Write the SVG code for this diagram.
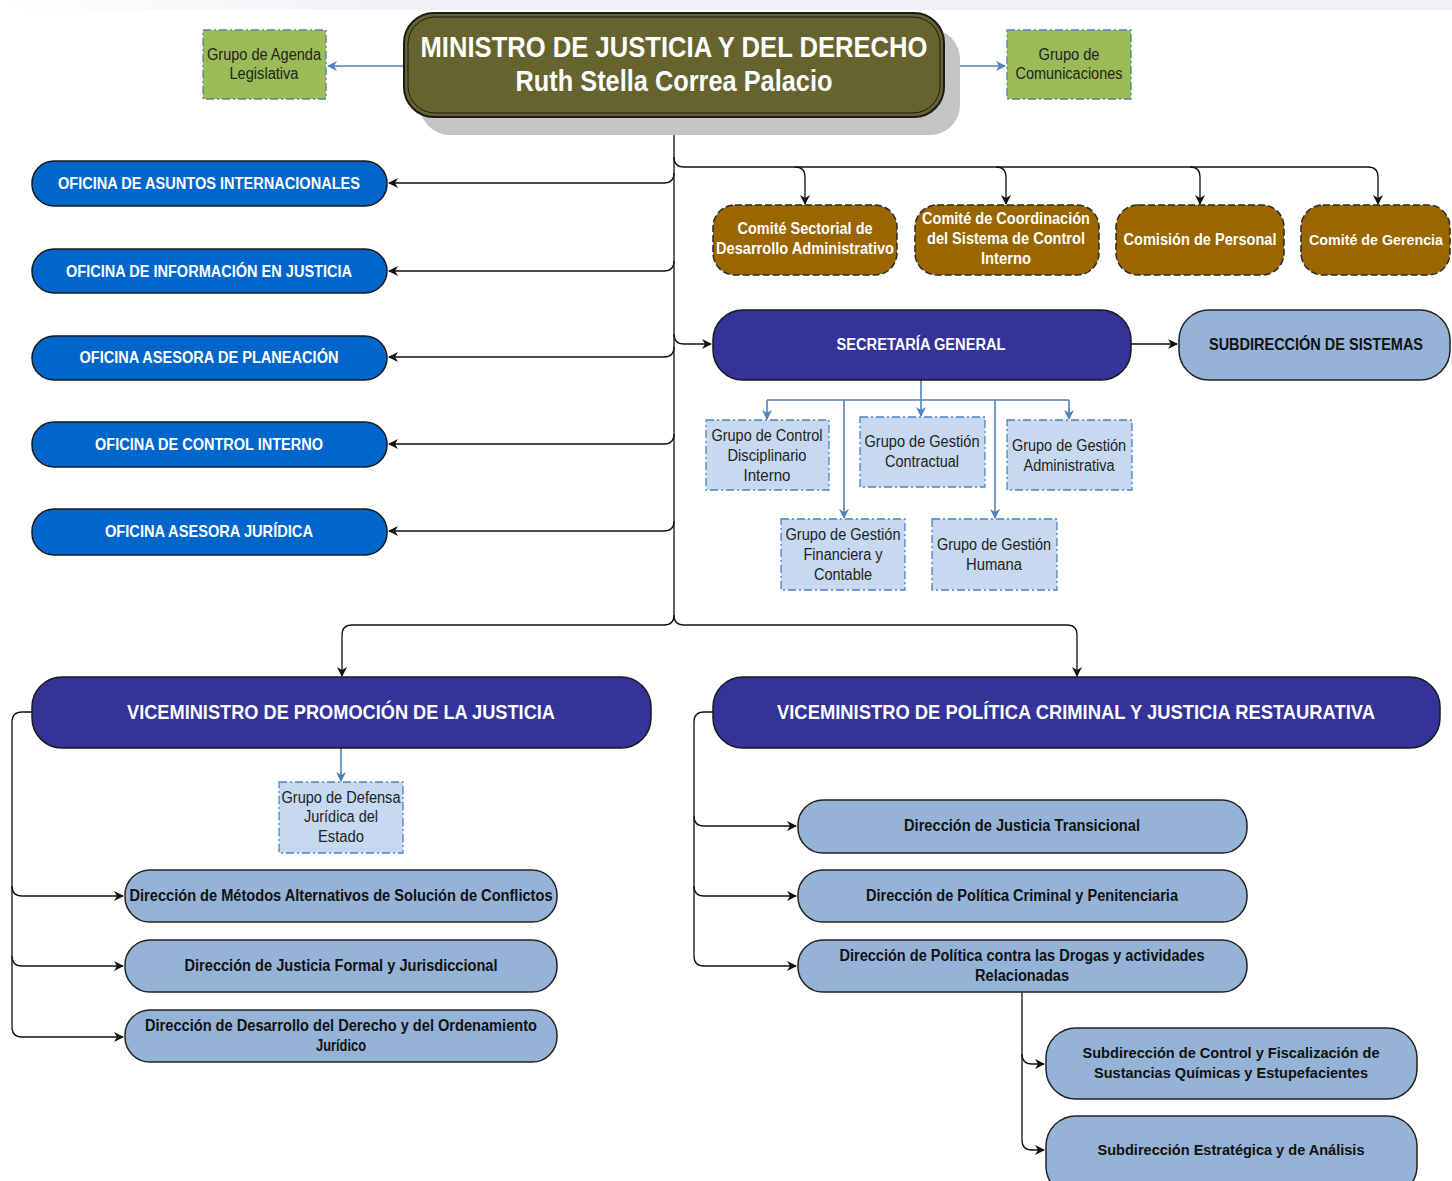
<svg xmlns="http://www.w3.org/2000/svg" width="1452" height="1181" viewBox="0 0 1452 1181">
<style>
text{font-family:"Liberation Sans",Arial,sans-serif;text-anchor:middle}
.w{fill:#fff;font-weight:bold}
.k{fill:#111;font-weight:bold}
.g{fill:#222;font-size:16px}
.off{fill:#0066cc;stroke:#1a1a1a;stroke-width:1.5}
.com{fill:#996600;stroke:#2a2a2a;stroke-width:1.5;stroke-dasharray:7 3}
.vice{fill:#333399;stroke:#1a1a1a;stroke-width:1.5}
.dir{fill:#95b3d7;stroke:#222;stroke-width:1.5}
.grp{fill:#c6d9f1;stroke:#4f81bd;stroke-width:1.3;stroke-dasharray:8 3 2 3}
.grn{fill:#9bbb59;stroke:#4f81bd;stroke-width:1.3;stroke-dasharray:8 3 2 3}
.c{fill:none;stroke:#111;stroke-width:1.3}
.cb{fill:none;stroke:#4f81bd;stroke-width:1.6}
</style>
<defs>
<linearGradient id="top" x1="0" x2="1" y1="0" y2="0"><stop offset="0" stop-color="#fff"/><stop offset="0.3" stop-color="#eef1f5"/><stop offset="1" stop-color="#eef1f5"/></linearGradient>
<marker id="ak" markerWidth="10" markerHeight="10" refX="9" refY="5" orient="auto" markerUnits="userSpaceOnUse"><path d="M0,0 L10,5 L0,10 L3,5 Z" fill="#111"/></marker>
<marker id="ab" markerWidth="10" markerHeight="10" refX="9" refY="5" orient="auto" markerUnits="userSpaceOnUse"><path d="M0,0 L10,5 L0,10 L3,5 Z" fill="#4f81bd"/></marker>
</defs>
<rect x="0" y="0" width="1452" height="1181" fill="#fff"/>
<rect x="0" y="0" width="1452" height="10" fill="url(#top)"/>

<g id="connectors">
<path class="c" d="M674,117 V615 Q674,625 684,625 H1067 Q1077,625 1077,635 V676" marker-end="url(#ak)"/>
<path class="c" d="M674,615 Q674,625 664,625 H352 Q342,625 342,635 V676" marker-end="url(#ak)"/>
<path class="c" d="M674,173 Q674,183 664,183 H389" marker-end="url(#ak)"/>
<path class="c" d="M674,261 Q674,271 664,271 H389" marker-end="url(#ak)"/>
<path class="c" d="M674,347 Q674,357 664,357 H389" marker-end="url(#ak)"/>
<path class="c" d="M674,434 Q674,444 664,444 H389" marker-end="url(#ak)"/>
<path class="c" d="M674,521 Q674,531 664,531 H389" marker-end="url(#ak)"/>
<path class="c" d="M674,157 Q674,167 684,167 H1368 Q1378,167 1378,177 V204" marker-end="url(#ak)"/>
<path class="c" d="M795,167 Q805,167 805,177 V204" marker-end="url(#ak)"/>
<path class="c" d="M996,167 Q1006,167 1006,177 V204" marker-end="url(#ak)"/>
<path class="c" d="M1190,167 Q1200,167 1200,177 V204" marker-end="url(#ak)"/>
<path class="c" d="M674,334 Q674,344 684,344 H711" marker-end="url(#ak)"/>
<path class="c" d="M1131,344 H1177" marker-end="url(#ak)"/>
<path class="cb" d="M404,66 H328" marker-end="url(#ab)"/>
<path class="cb" d="M944,66 H1005" marker-end="url(#ab)"/>
<path class="cb" d="M921,380 V400"/>
<path class="cb" d="M767,400 H1069"/>
<path class="cb" d="M767,400 V419" marker-end="url(#ab)"/>
<path class="cb" d="M921,400 V416" marker-end="url(#ab)"/>
<path class="cb" d="M1069,400 V419" marker-end="url(#ab)"/>
<path class="cb" d="M844,400 V518" marker-end="url(#ab)"/>
<path class="cb" d="M995,400 V518" marker-end="url(#ab)"/>
<path class="cb" d="M341,748 V781" marker-end="url(#ab)"/>
<path class="c" d="M32,712 H22 Q12,712 12,722 V1027 Q12,1037 22,1037 H123" marker-end="url(#ak)"/>
<path class="c" d="M12,886 Q12,896 22,896 H123" marker-end="url(#ak)"/>
<path class="c" d="M12,956 Q12,966 22,966 H123" marker-end="url(#ak)"/>
<path class="c" d="M713,712 H704 Q694,712 694,722 V956 Q694,966 704,966 H796" marker-end="url(#ak)"/>
<path class="c" d="M694,816 Q694,826 704,826 H796" marker-end="url(#ak)"/>
<path class="c" d="M694,886 Q694,896 704,896 H796" marker-end="url(#ak)"/>
<path class="c" d="M1022,992 V1140 Q1022,1150 1032,1150 H1044" marker-end="url(#ak)"/>
<path class="c" d="M1022,1054 Q1022,1064 1032,1064 H1044" marker-end="url(#ak)"/>
</g>

<g id="ministro">
<rect x="420" y="29" width="540" height="106" rx="30" fill="#c4c4c4"/>
<rect x="404" y="13" width="540" height="104" rx="30" fill="#66632e" stroke="#1a1a1a" stroke-width="2"/>
<rect x="408" y="17" width="532" height="96" rx="27" fill="none" stroke="#1a1a1a" stroke-width="1"/>
<text class="w" x="674" y="57" font-size="30" textLength="507" lengthAdjust="spacingAndGlyphs">MINISTRO DE JUSTICIA Y DEL DERECHO</text>
<text class="w" x="674" y="91" font-size="30" textLength="317" lengthAdjust="spacingAndGlyphs">Ruth Stella Correa Palacio</text>
</g>

<g id="agenda"><rect class="grn" x="203" y="30" width="123" height="69"/>
<text class="g" x="264" y="60" textLength="114" lengthAdjust="spacingAndGlyphs">Grupo de Agenda</text>
<text class="g" x="264" y="79" textLength="69" lengthAdjust="spacingAndGlyphs">Legislativa</text></g>
<g id="comunicaciones"><rect class="grn" x="1007" y="30" width="124" height="69"/>
<text class="g" x="1069" y="60" textLength="61" lengthAdjust="spacingAndGlyphs">Grupo de</text>
<text class="g" x="1069" y="79" textLength="107" lengthAdjust="spacingAndGlyphs">Comunicaciones</text></g>

<g id="of-internacionales"><rect class="off" x="32" y="161" width="355" height="45" rx="22"/>
<text class="w" x="209" y="189" font-size="16" textLength="302" lengthAdjust="spacingAndGlyphs">OFICINA DE ASUNTOS INTERNACIONALES</text></g>
<g id="of-informacion"><rect class="off" x="32" y="249" width="355" height="44" rx="22"/>
<text class="w" x="209" y="277" font-size="16" textLength="286" lengthAdjust="spacingAndGlyphs">OFICINA DE INFORMACIÓN EN JUSTICIA</text></g>
<g id="of-planeacion"><rect class="off" x="32" y="336" width="355" height="44" rx="22"/>
<text class="w" x="209" y="363" font-size="16" textLength="259" lengthAdjust="spacingAndGlyphs">OFICINA ASESORA DE PLANEACIÓN</text></g>
<g id="of-control"><rect class="off" x="32" y="422" width="355" height="45" rx="22"/>
<text class="w" x="209" y="450" font-size="16" textLength="228" lengthAdjust="spacingAndGlyphs">OFICINA DE CONTROL INTERNO</text></g>
<g id="of-juridica"><rect class="off" x="32" y="509" width="355" height="46" rx="22"/>
<text class="w" x="209" y="537" font-size="16" textLength="208" lengthAdjust="spacingAndGlyphs">OFICINA ASESORA JURÍDICA</text></g>

<g id="comite-sectorial"><rect class="com" x="713" y="205" width="184" height="70" rx="22"/>
<text class="w" x="805" y="234" font-size="16" textLength="135" lengthAdjust="spacingAndGlyphs">Comité Sectorial de</text>
<text class="w" x="805" y="254" font-size="16" textLength="178" lengthAdjust="spacingAndGlyphs">Desarrollo Administrativo</text></g>
<g id="comite-coordinacion"><rect class="com" x="915" y="205" width="184" height="70" rx="22"/>
<text class="w" x="1006" y="224" font-size="16" textLength="168" lengthAdjust="spacingAndGlyphs">Comité de Coordinación</text>
<text class="w" x="1006" y="244" font-size="16" textLength="158" lengthAdjust="spacingAndGlyphs">del Sistema de Control</text>
<text class="w" x="1006" y="264" font-size="16" textLength="50" lengthAdjust="spacingAndGlyphs">Interno</text></g>
<g id="comision-personal"><rect class="com" x="1116" y="205" width="168" height="70" rx="22"/>
<text class="w" x="1200" y="245" font-size="16" textLength="153" lengthAdjust="spacingAndGlyphs">Comisión de Personal</text></g>
<g id="comite-gerencia"><rect class="com" x="1301" y="205" width="149" height="70" rx="22"/>
<text class="w" x="1376" y="245" font-size="14.5" textLength="134" lengthAdjust="spacingAndGlyphs">Comité de Gerencia</text></g>

<g id="secretaria"><rect class="vice" x="713" y="310" width="418" height="70" rx="30"/>
<text class="w" x="921" y="350" font-size="16" textLength="169" lengthAdjust="spacingAndGlyphs">SECRETARÍA GENERAL</text></g>
<g id="subdir-sistemas"><rect class="dir" x="1179" y="310" width="271" height="70" rx="30"/>
<text class="k" x="1316" y="350" font-size="16" textLength="214" lengthAdjust="spacingAndGlyphs">SUBDIRECCIÓN DE SISTEMAS</text></g>

<g id="g-disciplinario"><rect class="grp" x="706" y="420" width="123" height="70"/>
<text class="g" x="767" y="441" textLength="111" lengthAdjust="spacingAndGlyphs">Grupo de Control</text>
<text class="g" x="767" y="461" textLength="79" lengthAdjust="spacingAndGlyphs">Disciplinario</text>
<text class="g" x="767" y="481" textLength="47" lengthAdjust="spacingAndGlyphs">Interno</text></g>
<g id="g-contractual"><rect class="grp" x="860" y="417" width="125" height="70"/>
<text class="g" x="922" y="447" textLength="115" lengthAdjust="spacingAndGlyphs">Grupo de Gestión</text>
<text class="g" x="922" y="467" textLength="74" lengthAdjust="spacingAndGlyphs">Contractual</text></g>
<g id="g-administrativa"><rect class="grp" x="1007" y="420" width="125" height="70"/>
<text class="g" x="1069" y="451" textLength="114" lengthAdjust="spacingAndGlyphs">Grupo de Gestión</text>
<text class="g" x="1069" y="471" textLength="91" lengthAdjust="spacingAndGlyphs">Administrativa</text></g>
<g id="g-financiera"><rect class="grp" x="781" y="519" width="124" height="71"/>
<text class="g" x="843" y="540" textLength="115" lengthAdjust="spacingAndGlyphs">Grupo de Gestión</text>
<text class="g" x="843" y="560" textLength="79" lengthAdjust="spacingAndGlyphs">Financiera y</text>
<text class="g" x="843" y="580" textLength="58" lengthAdjust="spacingAndGlyphs">Contable</text></g>
<g id="g-humana"><rect class="grp" x="932" y="519" width="125" height="71"/>
<text class="g" x="994" y="550" textLength="114" lengthAdjust="spacingAndGlyphs">Grupo de Gestión</text>
<text class="g" x="994" y="570" textLength="56" lengthAdjust="spacingAndGlyphs">Humana</text></g>

<g id="vice-promocion"><rect class="vice" x="32" y="677" width="619" height="71" rx="30"/>
<text class="w" x="341" y="719" font-size="20" textLength="428" lengthAdjust="spacingAndGlyphs">VICEMINISTRO DE PROMOCIÓN DE LA JUSTICIA</text></g>
<g id="g-defensa"><rect class="grp" x="279" y="782" width="124" height="71"/>
<text class="g" x="341" y="803" textLength="119" lengthAdjust="spacingAndGlyphs">Grupo de Defensa</text>
<text class="g" x="341" y="822" textLength="74" lengthAdjust="spacingAndGlyphs">Jurídica del</text>
<text class="g" x="341" y="842" textLength="46" lengthAdjust="spacingAndGlyphs">Estado</text></g>
<g id="dir-metodos"><rect class="dir" x="125" y="870" width="432" height="52" rx="25"/>
<text class="k" x="341" y="901" font-size="16" textLength="423" lengthAdjust="spacingAndGlyphs">Dirección de Métodos Alternativos de Solución de Conflictos</text></g>
<g id="dir-formal"><rect class="dir" x="125" y="940" width="432" height="52" rx="25"/>
<text class="k" x="341" y="971" font-size="16" textLength="313" lengthAdjust="spacingAndGlyphs">Dirección de Justicia Formal y Jurisdiccional</text></g>
<g id="dir-desarrollo"><rect class="dir" x="125" y="1010" width="432" height="52" rx="25"/>
<text class="k" x="341" y="1031" font-size="16" textLength="392" lengthAdjust="spacingAndGlyphs">Dirección de Desarrollo del Derecho y del Ordenamiento</text>
<text class="k" x="341" y="1051" font-size="16" textLength="50" lengthAdjust="spacingAndGlyphs">Jurídico</text></g>

<g id="vice-politica"><rect class="vice" x="713" y="677" width="727" height="71" rx="30"/>
<text class="w" x="1076" y="719" font-size="20" textLength="598" lengthAdjust="spacingAndGlyphs">VICEMINISTRO DE POLÍTICA CRIMINAL Y JUSTICIA RESTAURATIVA</text></g>
<g id="dir-transicional"><rect class="dir" x="798" y="800" width="449" height="53" rx="25"/>
<text class="k" x="1022" y="831" font-size="16" textLength="236" lengthAdjust="spacingAndGlyphs">Dirección de Justicia Transicional</text></g>
<g id="dir-criminal"><rect class="dir" x="798" y="870" width="449" height="52" rx="25"/>
<text class="k" x="1022" y="901" font-size="16" textLength="312" lengthAdjust="spacingAndGlyphs">Dirección de Política Criminal y Penitenciaria</text></g>
<g id="dir-drogas"><rect class="dir" x="798" y="940" width="449" height="52" rx="25"/>
<text class="k" x="1022" y="961" font-size="16" textLength="365" lengthAdjust="spacingAndGlyphs">Dirección de Política contra las Drogas y actividades</text>
<text class="k" x="1022" y="981" font-size="16" textLength="94" lengthAdjust="spacingAndGlyphs">Relacionadas</text></g>
<g id="subdir-control"><rect class="dir" x="1046" y="1028" width="371" height="71" rx="30"/>
<text class="k" x="1231" y="1058" font-size="15" textLength="297" lengthAdjust="spacingAndGlyphs">Subdirección de Control y Fiscalización de</text>
<text class="k" x="1231" y="1078" font-size="15" textLength="274" lengthAdjust="spacingAndGlyphs">Sustancias Químicas y Estupefacientes</text></g>
<g id="subdir-estrategica"><rect class="dir" x="1046" y="1116" width="371" height="80" rx="30"/>
<text class="k" x="1231" y="1155" font-size="15" textLength="267" lengthAdjust="spacingAndGlyphs">Subdirección Estratégica y de Análisis</text></g>
</svg>
